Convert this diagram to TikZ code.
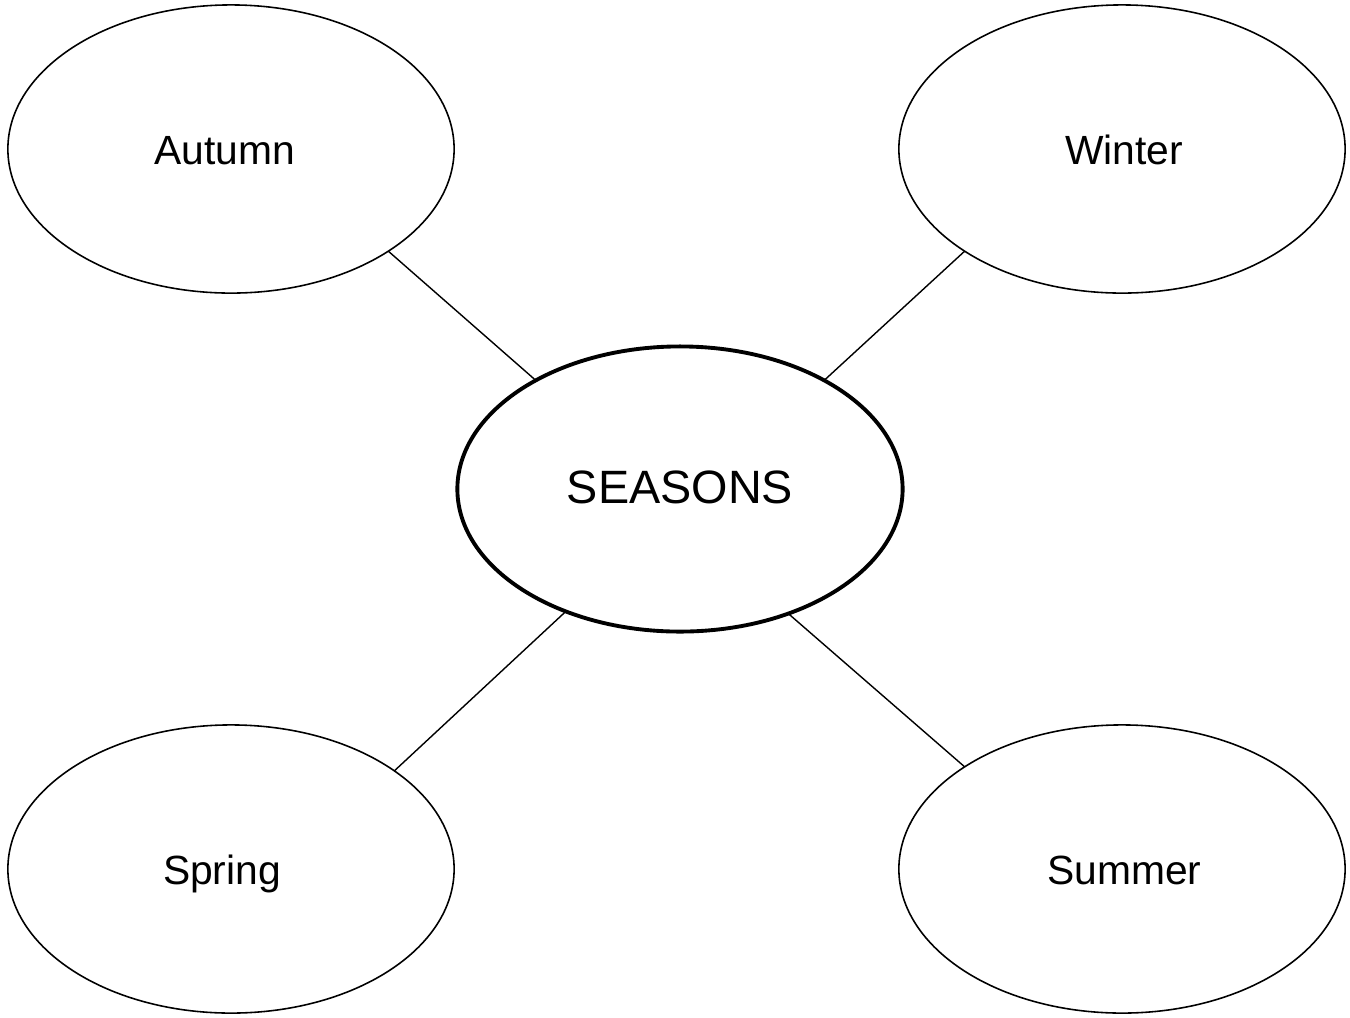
\documentclass[tikz,border=0pt]{standalone}
\usepackage{fontspec}
\setmainfont{Liberation Sans}
\usetikzlibrary{shapes.geometric}
\tikzset{
  season/.style={ellipse, draw, line width=0.45pt, minimum width=4.46cm, minimum height=2.88cm, inner sep=0pt, outer sep=0pt, text height=0.72em+0.06cm, text depth=0pt, font=\fontsize{11.6}{14}\selectfont},
  hub/.style={ellipse, draw, line width=1.1pt, minimum width=4.45cm, minimum height=2.85cm, inner sep=0pt, outer sep=0pt, text height=0.72em+0.04cm, text depth=0pt, font=\fontsize{13.3}{16}\selectfont},
  link/.style={line width=0.4pt}
}
\begin{document}
\begin{tikzpicture}[x=0.01cm,y=-0.01cm]
\useasboundingbox (0,0) rectangle (1350,1017);
\node[season] (autumn) at (231,149) {\kern-0.13cm Autumn};
\node[season] (winter) at (1122,149) {\kern0.04cm Winter};
\node[season] (spring) at (231,869) {\kern-0.18cm Spring};
\node[season] (summer) at (1122,869) {\kern0.05cm Summer};
\node[hub] (seasons) at (680,489) {SEASONS};
\draw[link] (autumn.-33.4) -- (seasons.143.9);
\draw[link] (winter.213.4) -- (seasons.37.5);
\draw[link] (spring.31.4) -- (seasons.227.2);
\draw[link] (summer.147.9) -- (seasons.-49.1);
\end{tikzpicture}
\end{document}
